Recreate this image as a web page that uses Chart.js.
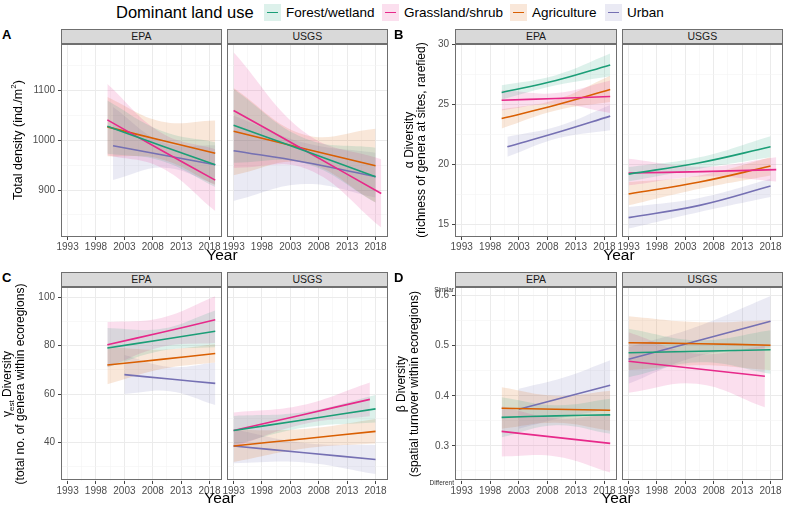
<!DOCTYPE html>
<html>
<head>
<meta charset="utf-8">
<script src="https://cdn.jsdelivr.net/npm/chart.js@4.4.1/dist/chart.umd.min.js"></script>
<style>
  body { margin: 0; width: 785px; height: 506px; background: #fff; position: relative; overflow: hidden;
         font-family: "Liberation Sans", Arial, sans-serif; }
  canvas { position: absolute; }
  .txt { position: absolute; white-space: nowrap; }
  .strip { position: absolute; background: #d9d9d9; border: 1px solid #6f6f6f; box-sizing: border-box;
           font-size: 10.5px; color: #1a1a1a; text-align: center; line-height: 13px; }
  .frame { position: absolute; border: 1px solid #6f6f6f; box-sizing: border-box; pointer-events: none; }
  .rot { position: absolute; white-space: nowrap; transform: translate(-50%, -50%) rotate(-90deg); color: #000; }
</style>
</head>
<body>
<script>
// ---- data ----
const SERIES = ["Forest/wetland", "Grassland/shrub", "Agriculture", "Urban"];
const COLORS = ["#1b9e77", "#e7298a", "#d95f02", "#7570b3"];
const YEAR_TICKS = [1993, 1998, 2003, 2008, 2013, 2018];
const YEAR_MINOR = [1995.5, 2000.5, 2005.5, 2010.5, 2015.5];

// per facet: x positions, fitted line, lower / upper band  (order = SERIES)
const A_EPA_X = [[2000, 2009.5, 2019], [2000, 2009.5, 2019], [2000, 2009.5, 2019], [2001, 2010, 2019]];
const A_EPA_FIT = [[1028, 989, 951], [1041, 980, 920], [1027, 1000, 974], [989, 970, 951]];
const A_EPA_LO = [[973, 959, 906], [970, 945, 858], [968, 962, 910], [920, 945, 912]];
const A_EPA_HI = [[1080, 1019, 996], [1113, 1015, 982], [1087, 1038, 1040], [1067, 995, 990]];

const A_USGS_X = [[1993, 2005.5, 2018], [1993, 2006, 2019], [1993, 2005.5, 2018], [1993, 2005.5, 2018]];
const A_USGS_FIT = [[1030, 979, 927], [1060, 977, 893], [1018, 983, 949], [979, 956, 927]];
const A_USGS_LO = [[955, 954, 875], [945, 942, 825], [930, 955, 875], [878, 912, 885]];
const A_USGS_HI = [[1103, 1004, 985], [1177, 1012, 962], [1105, 1011, 1023], [1050, 995, 975]];

const B_EPA_X = [[2000, 2009.5, 2019], [2000, 2009.5, 2019], [2000, 2009.5, 2019], [2001, 2010, 2019]];
const B_EPA_FIT = [[26.0, 27.0, 28.3], [25.36, 25.5, 25.67], [23.83, 24.95, 26.25], [21.47, 22.7, 24.03]];
const B_EPA_LO = [[25.4, 26.6, 27.36], [24.5, 25.05, 24.3], [23.0, 24.5, 25.2], [20.64, 22.2, 22.86]];
const B_EPA_HI = [[26.6, 27.45, 29.25], [26.2, 25.95, 27.0], [24.6, 25.4, 27.4], [22.3, 23.2, 24.95]];

const B_USGS_X = [[1993, 2005.5, 2018], [1993, 2006, 2019], [1993, 2005.5, 2018], [1993, 2005.5, 2018]];
const B_USGS_FIT = [[19.19, 20.14, 21.47], [19.28, 19.4, 19.56], [17.53, 18.53, 19.86], [15.56, 16.58, 18.19]];
const B_USGS_LO = [[18.58, 19.64, 20.6], [18.25, 19.0, 18.58], [16.58, 17.97, 19.08], [14.64, 16.03, 17.28]];
const B_USGS_HI = [[19.78, 20.6, 22.36], [20.47, 19.8, 20.6], [18.53, 19.08, 20.6], [16.44, 17.2, 18.8]];

const C_EPA_X = [[2000, 2009.5, 2019], [2000, 2009.5, 2019], [2000, 2009.5, 2019], [2003, 2011, 2019]];
const C_EPA_FIT = [[79.0, 82.4, 85.9], [80.3, 85.4, 90.6], [72.0, 74.3, 76.7], [68.0, 66.2, 64.4]];
const C_EPA_LO = [[71.0, 77.9, 79.3], [71.0, 79.4, 81.0], [64.0, 70.3, 73.0], [60.0, 61.2, 55.5]];
const C_EPA_HI = [[87.2, 86.9, 94.5], [89.7, 91.4, 100.3], [79.5, 78.3, 80.5], [76.1, 71.2, 73.0]];

const C_USGS_X = [[1993, 2005.5, 2018], [1993, 2005, 2017], [1993, 2005.5, 2018], [1993, 2005.5, 2018]];
const C_USGS_FIT = [[45.0, 49.4, 53.9], [45.0, 51.4, 57.8], [38.6, 41.6, 44.6], [38.6, 35.8, 33.0]];
const C_USGS_LO = [[39.0, 46.2, 48.3], [38.0, 47.4, 50.8], [32.0, 37.6, 39.6], [31.5, 31.8, 27.0]];
const C_USGS_HI = [[51.0, 52.6, 59.6], [52.4, 55.4, 64.8], [45.2, 45.6, 49.7], [45.5, 39.8, 39.0]];

const D_EPA_X = [[2000, 2009.5, 2019], [2000, 2009.5, 2019], [2000, 2009.5, 2019], [2003, 2011, 2019]];
const D_EPA_FIT = [[0.357, 0.360, 0.362], [0.329, 0.317, 0.305], [0.375, 0.373, 0.371], [0.373, 0.397, 0.421]];
const D_EPA_LO = [[0.317, 0.341, 0.324], [0.279, 0.279, 0.247], [0.334, 0.346, 0.330], [0.334, 0.357, 0.373]];
const D_EPA_HI = [[0.397, 0.381, 0.394], [0.379, 0.355, 0.363], [0.417, 0.400, 0.410], [0.414, 0.437, 0.471]];

const D_USGS_X = [[1993, 2005.5, 2018], [1993, 2005, 2017], [1993, 2005.5, 2018], [1993, 2005.5, 2018]];
const D_USGS_FIT = [[0.486, 0.489, 0.492], [0.469, 0.454, 0.439], [0.506, 0.504, 0.501], [0.473, 0.511, 0.549]];
const D_USGS_LO = [[0.437, 0.467, 0.444], [0.406, 0.424, 0.377], [0.451, 0.461, 0.451], [0.424, 0.480, 0.497]];
const D_USGS_HI = [[0.534, 0.511, 0.531], [0.527, 0.484, 0.500], [0.559, 0.547, 0.551], [0.497, 0.540, 0.599]];

const A_Y_MAJOR = [900, 1000, 1100], A_Y_MINOR = [850, 950, 1050, 1150];
const B_Y_MAJOR = [15, 20, 25, 30], B_Y_MINOR = [17.5, 22.5, 27.5];
const C_Y_MAJOR = [40, 60, 80, 100], C_Y_MINOR = [30, 50, 70, 90];
const D_Y_MAJOR = [0.3, 0.4, 0.5, 0.6], D_Y_MINOR = [0.25, 0.35, 0.45, 0.55];

// ---- helpers ----
const X_MIN = 1991.84, X_MAX = 2020.19;
const PAD = 6;

function rgba(hex, a) {
  const n = parseInt(hex.slice(1), 16);
  return `rgba(${n >> 16},${(n >> 8) & 255},${n & 255},${a})`;
}

function addText(html, css, cls) {
  const d = document.createElement("div");
  d.className = cls || "txt";
  d.innerHTML = html;
  Object.assign(d.style, css);
  document.body.appendChild(d);
  return d;
}

const near = (a, v) => a.some((t) => Math.abs(t - v) < 1e-6);

function drawFacet(f) {
  const padL = f.showY ? 40 : 0, padB = 16;
  const plotW = f.x1 - f.x0, plotH = f.y1 - f.y0;
  const w = Math.round(plotW + padL + 2 * PAD), h = Math.round(plotH + padB + PAD);
  const c = document.createElement("canvas");
  c.width = w; c.height = h;
  c.style.left = (f.x0 - padL - PAD) + "px";
  c.style.top = (f.y0 - PAD) + "px";
  c.style.width = w + "px"; c.style.height = h + "px";
  document.body.appendChild(c);

  const datasets = [];
  SERIES.forEach((name, i) => {
    const pts = (arr) => f.X[i].map((x, k) => ({ x, y: arr[i][k] }));
    datasets.push({ data: pts(f.LO), borderWidth: 0, pointRadius: 0, fill: false, tension: 0.4, order: 2 });
    datasets.push({ data: pts(f.HI), borderWidth: 0, pointRadius: 0, fill: "-1", tension: 0.4,
                    backgroundColor: rgba(COLORS[i], 0.15), order: 2 });
    datasets.push({ data: pts(f.FIT), borderColor: COLORS[i], borderWidth: 1.6, pointRadius: 0,
                    fill: false, tension: 0.4, order: 1 });
  });

  const xTicks = [...YEAR_TICKS, ...YEAR_MINOR].sort((a, b) => a - b);
  const yTicks = [...f.yMajor, ...f.yMinor].sort((a, b) => a - b);

  new Chart(c, {
    type: "line",
    data: { datasets },
    options: {
      responsive: false,
      animation: false,
      devicePixelRatio: 1,
      layout: { padding: { top: PAD, left: PAD, right: PAD, bottom: 0 } },
      plugins: { legend: { display: false }, tooltip: { enabled: false } },
      scales: {
        x: {
          type: "linear", min: X_MIN, max: X_MAX,
          afterBuildTicks: (s) => { s.ticks = xTicks.map((v) => ({ value: v })); },
          afterFit: (s) => { s.height = padB; s.paddingLeft = 0; s.paddingRight = 0; },
          border: { display: false },
          grid: {
            color: (ctx) => near(YEAR_TICKS, ctx.tick.value) ? "#ebebeb" : "#f4f4f4",
            lineWidth: (ctx) => near(YEAR_TICKS, ctx.tick.value) ? 1 : 0.6,
            tickColor: (ctx) => near(YEAR_TICKS, ctx.tick.value) ? "#444" : "rgba(0,0,0,0)",
            tickLength: 3,
          },
          ticks: {
            autoSkip: false, maxRotation: 0, padding: 1, color: "#4d4d4d",
            font: { size: 10, family: "Liberation Sans" },
            callback: (v) => near(YEAR_TICKS, v) ? String(v) : "",
          },
        },
        y: {
          type: "linear", min: f.yMin, max: f.yMax,
          afterBuildTicks: (s) => { s.ticks = yTicks.map((v) => ({ value: v })); },
          afterFit: (s) => { s.width = padL; s.paddingTop = 0; s.paddingBottom = 0; },
          border: { display: false },
          grid: {
            color: (ctx) => near(f.yMajor, ctx.tick.value) ? "#ebebeb" : "#f4f4f4",
            lineWidth: (ctx) => near(f.yMajor, ctx.tick.value) ? 1 : 0.6,
            tickColor: (ctx) => f.showY && near(f.yMajor, ctx.tick.value) ? "#444" : "rgba(0,0,0,0)",
            tickLength: f.showY ? 3 : 0,
          },
          ticks: {
            display: f.showY, autoSkip: false, padding: 3, color: "#4d4d4d",
            font: { size: 10, family: "Liberation Sans" },
            callback: (v) => near(f.yMajor, v) ? f.fmt(v) : "",
          },
        },
      },
    },
  });

  // panel border + strip
  addText("", { left: f.x0 + "px", top: f.y0 + "px", width: plotW + "px", height: plotH + "px" }, "frame");
  addText(f.strip, { left: f.x0 + "px", top: (f.y0 - 15) + "px", width: plotW + "px", height: "15.5px" }, "strip");
}

// ---- layout ----
const LEFT_COLS = [[60.7, 222], [226.7, 388]];
const RIGHT_COLS = [[455, 617], [621.7, 783]];
const TOP_ROW = [43.7, 237], BOT_ROW = [286.7, 480.5];

const PANELS = [
  { cols: LEFT_COLS, row: TOP_ROW, yMin: 805.7, yMax: 1193.5, yMajor: A_Y_MAJOR, yMinor: A_Y_MINOR, fmt: (v) => String(v),
    facets: [[A_EPA_X, A_EPA_FIT, A_EPA_LO, A_EPA_HI], [A_USGS_X, A_USGS_FIT, A_USGS_LO, A_USGS_HI]] },
  { cols: RIGHT_COLS, row: TOP_ROW, yMin: 13.94, yMax: 30.05, yMajor: B_Y_MAJOR, yMinor: B_Y_MINOR, fmt: (v) => String(v),
    facets: [[B_EPA_X, B_EPA_FIT, B_EPA_LO, B_EPA_HI], [B_USGS_X, B_USGS_FIT, B_USGS_LO, B_USGS_HI]] },
  { cols: LEFT_COLS, row: BOT_ROW, yMin: 24.15, yMax: 104.14, yMajor: C_Y_MAJOR, yMinor: C_Y_MINOR, fmt: (v) => String(v),
    facets: [[C_EPA_X, C_EPA_FIT, C_EPA_LO, C_EPA_HI], [C_USGS_X, C_USGS_FIT, C_USGS_LO, C_USGS_HI]] },
  { cols: RIGHT_COLS, row: BOT_ROW, yMin: 0.2299, yMax: 0.6172, yMajor: D_Y_MAJOR, yMinor: D_Y_MINOR, fmt: (v) => v.toFixed(1),
    facets: [[D_EPA_X, D_EPA_FIT, D_EPA_LO, D_EPA_HI], [D_USGS_X, D_USGS_FIT, D_USGS_LO, D_USGS_HI]] },
];

PANELS.forEach((p) => {
  p.facets.forEach(([X, FIT, LO, HI], j) => {
    drawFacet({
      x0: p.cols[j][0], x1: p.cols[j][1], y0: p.row[0], y1: p.row[1],
      showY: j === 0, strip: j === 0 ? "EPA" : "USGS",
      yMin: p.yMin, yMax: p.yMax, yMajor: p.yMajor, yMinor: p.yMinor, fmt: p.fmt,
      X, FIT, LO, HI,
    });
  });
});

// ---- annotations ----
const LETTER = { fontSize: "13px", fontWeight: "bold", color: "#000" };
addText("A", { left: "2px", top: "27px", ...LETTER });
addText("B", { left: "394px", top: "27px", ...LETTER });
addText("C", { left: "2px", top: "270px", ...LETTER });
addText("D", { left: "394px", top: "270px", ...LETTER });

const XT = { fontSize: "15.5px", lineHeight: "16px", color: "#000", transform: "translateX(-50%)" };
addText("Year", { left: "222px", top: "247px", ...XT });
addText("Year", { left: "619px", top: "247px", ...XT });
addText("Year", { left: "220px", top: "490px", ...XT });
addText("Year", { left: "617px", top: "490px", ...XT });

const YT = { fontSize: "12px" };
addText("Total density (ind./m<sup style='font-size:8px'>2</sup>)", { left: "17px", top: "140px", fontSize: "12.5px" }, "rot");
addText("α Diversity", { left: "409px", top: "140px", ...YT }, "rot");
addText("(richness of genera at sites, rarefied)", { left: "421px", top: "140px", ...YT }, "rot");
addText("γ<sub style='font-size:8px'>est</sub> Diversity", { left: "8px", top: "384px", ...YT }, "rot");
addText("(total no. of genera within ecoregions)", { left: "20px", top: "384px", ...YT }, "rot");
addText("β Diversity", { left: "401px", top: "384px", ...YT }, "rot");
addText("(spatial turnover within ecoregions)", { left: "414px", top: "384px", ...YT }, "rot");

const SMALL = { fontSize: "6.5px", color: "#333", transform: "translate(-100%, -50%)" };
addText("Similar", { left: "454px", top: "289px", ...SMALL });
addText("Different", { left: "454px", top: "482px", ...SMALL });

// ---- legend ----
addText("Dominant land use", { left: "116px", top: "4px", fontSize: "16.5px", lineHeight: "16.5px", color: "#000" });
const LEG_TXT_X = [286, 404, 532, 627];
SERIES.forEach((name, i) => {
  const kx = LEG_TXT_X[i] - 22;
  addText("", { left: kx + "px", top: "4px", width: "17px", height: "17px", background: rgba(COLORS[i], 0.15) });
  addText("", { left: (kx + 3) + "px", top: "11.7px", width: "11px", height: "1.8px", background: COLORS[i] });
  addText(name, { left: LEG_TXT_X[i] + "px", top: "6px", fontSize: "13.5px", lineHeight: "13.5px", color: "#000" });
});
</script>
</body>
</html>
